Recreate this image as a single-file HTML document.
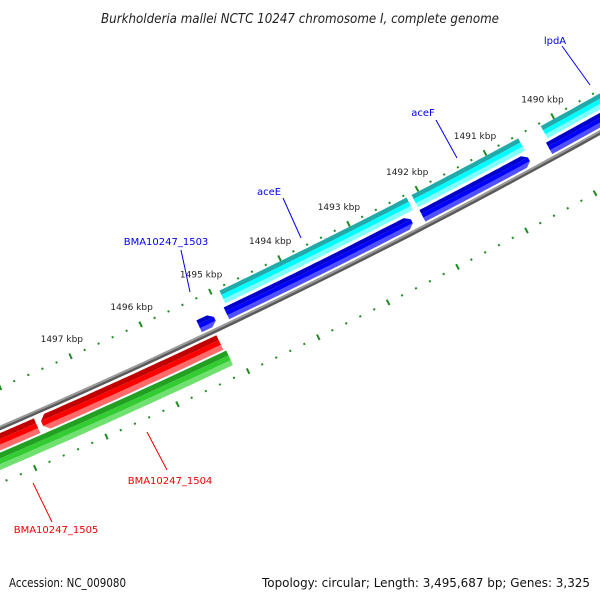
<!DOCTYPE html>
<html><head><meta charset="utf-8"><style>
html,body{margin:0;padding:0;background:#fff;}
svg{display:block;font-family:"DejaVu Sans","Liberation Sans",sans-serif;}
</style></head><body>
<svg id="map" width="600" height="600" viewBox="0 0 600 600" xmlns="http://www.w3.org/2000/svg">
<rect width="600" height="600" fill="#fff"/>
<text x="300" y="23" text-anchor="middle" font-size="13" font-style="italic" fill="#222" textLength="398" lengthAdjust="spacingAndGlyphs">Burkholderia mallei NCTC 10247 chromosome I, complete genome</text>
<g id="layer"></g>
<text x="9" y="587" font-size="12" fill="#111" textLength="117" lengthAdjust="spacingAndGlyphs">Accession: NC_009080</text>
<text x="590" y="587" text-anchor="end" font-size="12" fill="#111" textLength="328" lengthAdjust="spacingAndGlyphs">Topology: circular; Length: 3,495,687 bp; Genes: 3,325</text>
</svg>
<script>
// ---- data (bp) ----
const tickLabels = [1490,1491,1492,1493,1494,1495,1496,1497];
const cdsStarts = [1494887,1492099,1490197];
const cdsEnds   = [1492172,1490531,1487500];
const geneFwdStarts = [1495323,1494931,1492099,1490241];
const geneFwdEnds   = [1495062,1492216,1490502,1487500];
const geneRevStarts = [1499500,1497726];
const geneRevEnds   = [1497760,1495170];
const cdsRevStarts = [1499500];
const cdsRevEnds   = [1495141];
const labelNames = ["lpdA","aceF","aceE","BMA10247_1503","BMA10247_1504","BMA10247_1505"];
const labelColors = ["#0000ee","#0000ee","#0000ee","#0000ee","#ee0000","#ee0000"];
const labelPos = [[555,44],[423,116],[269,195],[166,245],[170,484],[56,533]];
const labelLines = [[562,46,590,85],[436,120,457,158],[283,198,301,238],[181,250,190,292],[147,432,167,470],[33,483,52,522]];

// ---- geometry: circle model ----
const CX=-2619, CY=-5649, R0=6580;
const thA=Math.atan2(355-CY,70-CX), thB=Math.atan2(115-CY,552-CX);
function ang(bp){return thB+(bp-1490000)*(thA-thB)/7000;}
function pt(bp,r){const a=ang(bp);return [CX+r*Math.cos(a),CY+r*Math.sin(a)];}
const NS="http://www.w3.org/2000/svg";
const layer=document.getElementById('layer');
function mk(tag,attrs){const e=document.createElementNS(NS,tag);for(const k in attrs)e.setAttribute(k,attrs[k]);layer.appendChild(e);return e;}
function bandPts(a,b,r1,r2){const p=[];const n=40;for(let i=0;i<=n;i++)p.push(pt(a+(b-a)*i/n,r1));for(let i=n;i>=0;i--)p.push(pt(a+(b-a)*i/n,r2));return p;}
function poly(p,fill,name){const e=mk('polygon',{points:p.map(q=>q[0].toFixed(1)+','+q[1].toFixed(1)).join(' '),fill:fill});


return e;}
function feature(a,b,r1,r2,cols,dir,name){
  const head=110;
  const h=(r2-r1)/3;
  const mid=(r1+r2)/2;
  for(let k=0;k<3;k++){
    const ra=r1+h*k, rb=r1+h*(k+1);
    let p;
    if(dir===1){const bb=Math.min(a,b+head);
      const t=(x)=>b+head*Math.abs(x-mid)/((r2-r1)/2);
      p=[...bandPts(a,bb,ra,ra).slice(0,41),pt(t(ra),ra),pt(t(rb),rb),...bandPts(a,bb,rb,rb).slice(0,41).reverse()];}
    else if(dir===-1){const aa=Math.max(b,a-head);
      const t=(x)=>a-head*Math.abs(x-mid)/((r2-r1)/2);
      const s1=bandPts(aa,b,ra,ra).slice(0,41), s2=bandPts(aa,b,rb,rb).slice(0,41);
      p=[pt(t(ra),ra),...s1,...s2.reverse(),pt(t(rb),rb)];}
    else p=bandPts(a,b,ra,rb);
    poly(p,cols[k],name);
  }
}
// backbone
poly(bandPts(1488000,1500500,R0+35,R0+37),'#999','backbone');
poly(bandPts(1488000,1500500,R0+37,R0+39.5),'#5a5a5a','backbone-shadow');
// ticks
function ticks(r,rowName){
  for(let bp=1487000;bp<=1500600;bp+=200){
    const major=(bp%1000===0);
    const len=major?6:2;
    const p1=pt(bp,r-len/2),p2=pt(bp,r+len/2);
    const l=mk('line',{x1:p1[0].toFixed(1),y1:p1[1].toFixed(1),x2:p2[0].toFixed(1),y2:p2[1].toFixed(1),stroke:'#1e8c1e','stroke-width':2});
    
    
  }
}
ticks(R0,'inner');
ticks(R0+88,'outer');
tickLabels.forEach(k=>{const p=pt(k*1000,R0-19);
  const t=mk('text',{x:(p[0]-1).toFixed(1),y:(p[1]+3).toFixed(1),'font-size':9,'text-anchor':'middle',fill:'#222'});
  t.textContent=k+' kbp';
  
  });
// features
cdsStarts.forEach((a,i)=>feature(a,cdsEnds[i],R0+3,R0+17,['#20aaaa','#00ffff','#80ffff'],0,'cds-forward'));
geneFwdStarts.forEach((a,i)=>feature(a,geneFwdEnds[i],R0+20,R0+33,['#0000cc','#0000ff','#5050ff'],1,'gene-forward'));
geneRevStarts.forEach((a,i)=>feature(a,geneRevEnds[i],R0+42,R0+58,['#c00000','#ff0000','#ff6a6a'],-1,'gene-reverse'));
cdsRevStarts.forEach((a,i)=>feature(a,cdsRevEnds[i],R0+60,R0+76,['#22a022','#33cc33','#70e070'],0,'cds-reverse'));
// labels
labelNames.forEach((n,i)=>{const L=labelLines[i];
  const l=mk('line',{x1:L[0],y1:L[1],x2:L[2],y2:L[3],stroke:labelColors[i],'stroke-width':1});
  
  
  const t=mk('text',{x:labelPos[i][0],y:labelPos[i][1],'font-size':10,'text-anchor':'middle',fill:labelColors[i]});
  t.textContent=n;
  
  });
</script>
</body></html>
